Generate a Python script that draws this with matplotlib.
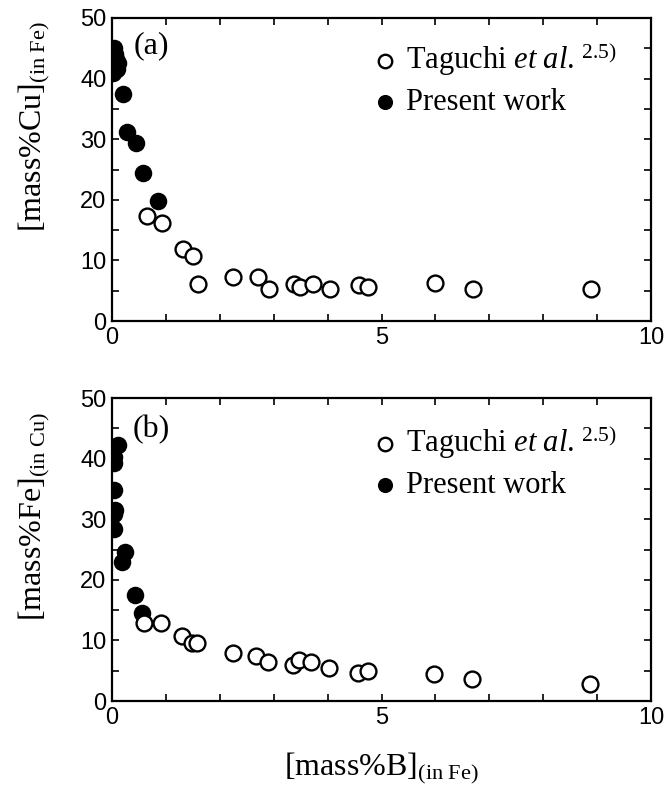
import numpy as np
import matplotlib
matplotlib.use("Agg")
import matplotlib.pyplot as plt

plt.rcParams['font.family'] = ['Liberation Sans', 'DejaVu Sans']
plt.rcParams['mathtext.fontset'] = 'custom'
plt.rcParams['mathtext.rm'] = 'Liberation Serif'
plt.rcParams['mathtext.it'] = 'Liberation Serif:italic'

# (a) Cu in Fe-rich phase vs B
xa_pw = [0.03, 0.05, 0.08, 0.12, 0.04, 0.10, 0.02, 0.20, 0.27, 0.44, 0.58, 0.86]
ya_pw = [45.0, 44.0, 43.2, 42.6, 42.0, 41.6, 41.0, 37.4, 31.2, 29.3, 24.4, 19.8]
xa_tg = [0.64, 0.92, 1.31, 1.51, 1.59, 2.25, 2.71, 2.91, 3.38, 3.49, 3.72, 4.05, 4.59, 4.75, 6.00, 6.70, 8.88]
ya_tg = [17.4, 16.1, 11.9, 10.8, 6.1, 7.3, 7.3, 5.2, 6.1, 5.6, 6.1, 5.2, 5.9, 5.6, 6.3, 5.3, 5.3]

# (b) Fe in Cu-rich phase vs B
xb_pw = [0.12, 0.04, 0.04, 0.03, 0.06, 0.04, 0.03, 0.25, 0.19, 0.42, 0.56]
yb_pw = [42.3, 40.2, 39.2, 34.9, 31.5, 30.8, 28.4, 24.6, 22.9, 17.5, 14.5]
xb_tg = [0.60, 0.90, 1.29, 1.49, 1.58, 2.24, 2.68, 2.90, 3.36, 3.47, 3.70, 4.03, 4.57, 4.74, 5.98, 6.67, 8.87]
yb_tg = [12.8, 12.9, 10.8, 9.5, 9.6, 7.9, 7.4, 6.4, 6.0, 6.75, 6.5, 5.5, 4.7, 5.0, 4.45, 3.7, 2.75]

ylabels = [r'[mass%Cu]$_{\mathrm{(in\ Fe)}}$', r'[mass%Fe]$_{\mathrm{(in\ Cu)}}$']
tags = ['(a)', '(b)']
xlabel = r'[mass%B]$_{\mathrm{(in\ Fe)}}$'
lab_tg = r'Taguchi $\mathit{et\ al.}^{\,\mathrm{2.5)}}$'
lab_pw = 'Present work'

fig = plt.figure(figsize=(6.66, 8.0), dpi=100)
ax_a = fig.add_axes([0.1682, 0.59875, 0.8093, 0.37875])
ax_b = fig.add_axes([0.1682, 0.12375, 0.8093, 0.37875])

serif = 'Liberation Serif'
# axes, data, ylabel y-position, tag y-position, legend y-anchor
data = [(ax_a, xa_pw, ya_pw, xa_tg, ya_tg, 0.64, 0.91, 0.975),
        (ax_b, xb_pw, yb_pw, xb_tg, yb_tg, 0.61, 0.895, 0.965)]
for i, (ax, xp, yp, xt, yt, ly, ty, lgy) in enumerate(data):
    ax.scatter(xp, yp, s=130, c='black', edgecolors='black', linewidths=1.2,
               label=lab_pw, zorder=3)
    ax.scatter(xt, yt, s=130, facecolors='white', edgecolors='black', linewidths=1.7,
               label=lab_tg, zorder=4)
    ax.set_xlim(0, 10)
    ax.set_ylim(0, 50)
    ax.set_xticks(np.arange(0, 11, 1))
    ax.set_xticklabels(['0', '', '', '', '', '5', '', '', '', '', '10'])
    ax.set_yticks(np.arange(0, 51, 5))
    ax.set_yticklabels([str(v) if v % 10 == 0 else '' for v in range(0, 51, 5)])
    ax.tick_params(direction='in', length=5, width=1.2, top=True, right=True,
                   labelsize=17, pad=4)
    for sp in ax.spines.values():
        sp.set_linewidth(1.6)
    ax.set_ylabel(ylabels[i], fontfamily=serif, fontsize=23)
    ax.yaxis.set_label_coords(-0.112, ly)
    ax.text(0.073, ty, tags[i], transform=ax.transAxes, fontfamily=serif,
            fontsize=23, ha='center', va='center')
    handles, labels = ax.get_legend_handles_labels()
    ax.legend(handles[::-1], labels[::-1], loc='upper left', bbox_to_anchor=(0.43, lgy),
              frameon=False, prop={'family': serif, 'size': 22}, handletextpad=-0.15,
              handlelength=1.7, labelspacing=0.3, borderpad=0, markerscale=0.85)

ax_b.set_xlabel(xlabel, fontfamily=serif, fontsize=23, labelpad=16)

fig.savefig('out.png', dpi=100)
